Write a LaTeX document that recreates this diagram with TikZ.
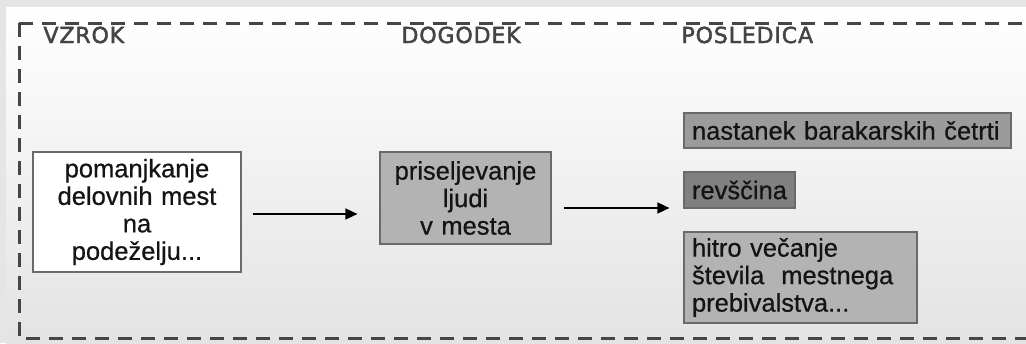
\documentclass[tikz,border=0pt]{standalone}
\usepackage{fontspec}
\setmainfont{Liberation Sans}
\newfontfamily\headfont[LetterSpace=4,FakeBold=2]{DejaVu Sans}
\newfontfamily\boxfont[FakeBold=0.6]{Liberation Sans}
\usetikzlibrary{arrows.meta}
\definecolor{bggray}{HTML}{E4E5E4}
\definecolor{innergray}{HTML}{E2E3E2}
\definecolor{framegray}{HTML}{454545}
\definecolor{headgray}{HTML}{444444}
\definecolor{boxline}{HTML}{6A6A6A}
\definecolor{textdark}{HTML}{141414}
\definecolor{lightbox}{HTML}{B3B3B3}
\definecolor{midbox}{HTML}{9B9B9B}
\definecolor{darkbox}{HTML}{808080}
\tikzset{box/.style={draw=boxline,line width=1.2pt,inner ysep=0pt,inner xsep=8pt,
    font=\boxfont\fontsize{25.5}{27.5}\selectfont,text=textdark},
  heading/.style={anchor=base west,font=\headfont\fontsize{22}{26}\selectfont,text=headgray}}

\begin{document}
\begin{tikzpicture}[x=1pt,y=-1pt,arr/.style={line width=1.6pt,-{Triangle[length=12pt,width=11pt]}}]
    \useasboundingbox (0,0) rectangle (1026,343);
    \fill[bggray] (0,0) rectangle (1026,343);
    \shade[top color=white,bottom color=innergray] (6,7) rectangle (1026,343);
    \draw[framegray,line width=3pt,dash pattern=on 14pt off 9pt] (19,23) rectangle (1045,338);

    % headings
    \node[heading] (vzrok) at (40,43) {VZROK};
    \node[heading] (dogodek) at (398,43) {DOGODEK};
    \node[heading] (posledica) at (678,43) {POSLEDICA};

    % boxes
    \node[box,fill=white,minimum width=208pt,minimum height=120pt,text width=192pt,align=center]
        (cause) at (137,212) {pomanjkanje\\delovnih mest\\na\\podeželju...};
    \node[box,fill=lightbox,minimum width=171pt,minimum height=92pt,text width=155pt,align=center]
        (event) at (465.5,198) {priseljevanje\\ljudi\\v mesta};
    \node[box,fill=midbox,minimum width=327pt,minimum height=35pt,text width=311pt,align=left]
        (slums) at (847.5,130.5) {nastanek barakarskih četrti};
    \node[box,fill=darkbox,minimum width=111pt,minimum height=36pt,text width=95pt,align=left]
        (poverty) at (739.5,190) {revščina};
    \node[box,fill=lightbox,minimum width=233pt,minimum height=91pt,text width=217pt,align=left]
        (growth) at (800.5,277.5) {hitro večanje\\števila\ \ mestnega\\prebivalstva...};

    % arrows
    \draw[arr,shorten <=11pt,shorten >=22pt] ([yshift=-2pt]cause.east) -- ([yshift=-16pt]event.west);
    \draw[arr,shorten <=12pt,shorten >=14pt] ([yshift=-10pt]event.east) -- ([yshift=-18pt]poverty.west);
\end{tikzpicture}
\end{document}
